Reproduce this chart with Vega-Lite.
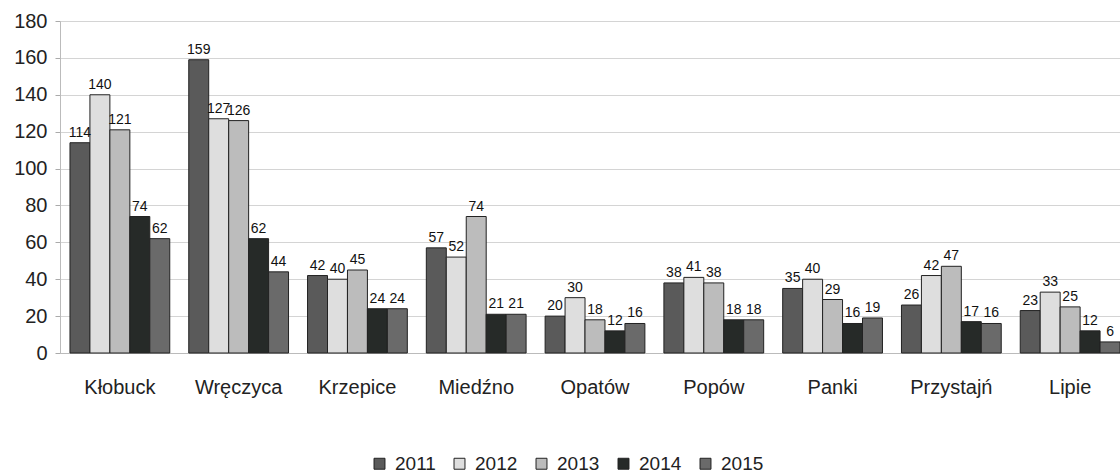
{
  "$schema": "https://vega.github.io/schema/vega-lite/v6.json",
  "width": 1070,
  "height": 332,
  "autosize": {"type": "none"},
  "padding": {"left": 60, "top": 21, "right": 0, "bottom": 120},
  "background": "white",
  "config": {
    "font": "Liberation Sans",
    "view": {"stroke": null}
  },
  "data": {
    "values": [
      {"gmina": "Kłobuck", "rok": "2011", "v": 114},
      {"gmina": "Kłobuck", "rok": "2012", "v": 140},
      {"gmina": "Kłobuck", "rok": "2013", "v": 121},
      {"gmina": "Kłobuck", "rok": "2014", "v": 74},
      {"gmina": "Kłobuck", "rok": "2015", "v": 62},
      {"gmina": "Wręczyca", "rok": "2011", "v": 159},
      {"gmina": "Wręczyca", "rok": "2012", "v": 127},
      {"gmina": "Wręczyca", "rok": "2013", "v": 126},
      {"gmina": "Wręczyca", "rok": "2014", "v": 62},
      {"gmina": "Wręczyca", "rok": "2015", "v": 44},
      {"gmina": "Krzepice", "rok": "2011", "v": 42},
      {"gmina": "Krzepice", "rok": "2012", "v": 40},
      {"gmina": "Krzepice", "rok": "2013", "v": 45},
      {"gmina": "Krzepice", "rok": "2014", "v": 24},
      {"gmina": "Krzepice", "rok": "2015", "v": 24},
      {"gmina": "Miedźno", "rok": "2011", "v": 57},
      {"gmina": "Miedźno", "rok": "2012", "v": 52},
      {"gmina": "Miedźno", "rok": "2013", "v": 74},
      {"gmina": "Miedźno", "rok": "2014", "v": 21},
      {"gmina": "Miedźno", "rok": "2015", "v": 21},
      {"gmina": "Opatów", "rok": "2011", "v": 20},
      {"gmina": "Opatów", "rok": "2012", "v": 30},
      {"gmina": "Opatów", "rok": "2013", "v": 18},
      {"gmina": "Opatów", "rok": "2014", "v": 12},
      {"gmina": "Opatów", "rok": "2015", "v": 16},
      {"gmina": "Popów", "rok": "2011", "v": 38},
      {"gmina": "Popów", "rok": "2012", "v": 41},
      {"gmina": "Popów", "rok": "2013", "v": 38},
      {"gmina": "Popów", "rok": "2014", "v": 18},
      {"gmina": "Popów", "rok": "2015", "v": 18},
      {"gmina": "Panki", "rok": "2011", "v": 35},
      {"gmina": "Panki", "rok": "2012", "v": 40},
      {"gmina": "Panki", "rok": "2013", "v": 29},
      {"gmina": "Panki", "rok": "2014", "v": 16},
      {"gmina": "Panki", "rok": "2015", "v": 19},
      {"gmina": "Przystajń", "rok": "2011", "v": 26},
      {"gmina": "Przystajń", "rok": "2012", "v": 42},
      {"gmina": "Przystajń", "rok": "2013", "v": 47},
      {"gmina": "Przystajń", "rok": "2014", "v": 17},
      {"gmina": "Przystajń", "rok": "2015", "v": 16},
      {"gmina": "Lipie", "rok": "2011", "v": 23},
      {"gmina": "Lipie", "rok": "2012", "v": 33},
      {"gmina": "Lipie", "rok": "2013", "v": 25},
      {"gmina": "Lipie", "rok": "2014", "v": 12},
      {"gmina": "Lipie", "rok": "2015", "v": 6}
    ]
  },
  "encoding": {
    "x": {
      "field": "gmina", "type": "nominal", "sort": null,
      "scale": {"paddingInner": 0.16, "paddingOuter": 0.084},
      "axis": {"title": null, "labelAngle": 0, "labelFontSize": 20, "labelColor": "#222", "labelPadding": 24, "ticks": false, "domainColor": "#bbb", "grid": false}
    },
    "xOffset": {"field": "rok", "type": "nominal"},
    "y": {
      "field": "v", "type": "quantitative",
      "scale": {"domain": [0, 180]},
      "axis": {"title": null, "values": [0,20,40,60,80,100,120,140,160,180], "labelFontSize": 20, "labelColor": "#222", "labelPadding": 8, "tickSize": 5, "tickColor": "#aaa", "domainColor": "#bbb", "gridColor": "#d4d4d4", "gridWidth": 1}
    }
  },
  "layer": [
    {
      "mark": {"type": "bar", "stroke": "#222", "strokeWidth": 1},
      "encoding": {
        "color": {
          "field": "rok", "type": "nominal",
          "scale": {"domain": ["2011","2012","2013","2014","2015"], "range": ["#5a5a5a","#dedede","#bcbcbc","#262a28","#6a6a6a"]},
          "legend": {"title": null, "orient": "none", "legendX": 310, "legendY": 433, "direction": "horizontal", "symbolType": "square", "symbolSize": 120, "symbolStrokeColor": "#222", "symbolStrokeWidth": 1, "labelFontSize": 19, "labelColor": "#222", "labelOffset": 6, "columnPadding": 14, "symbolOffset": 0}
        }
      }
    },
    {
      "mark": {"type": "text", "dy": -10, "fontSize": 14, "color": "#111"},
      "encoding": {"text": {"field": "v", "type": "quantitative"}}
    }
  ]
}
